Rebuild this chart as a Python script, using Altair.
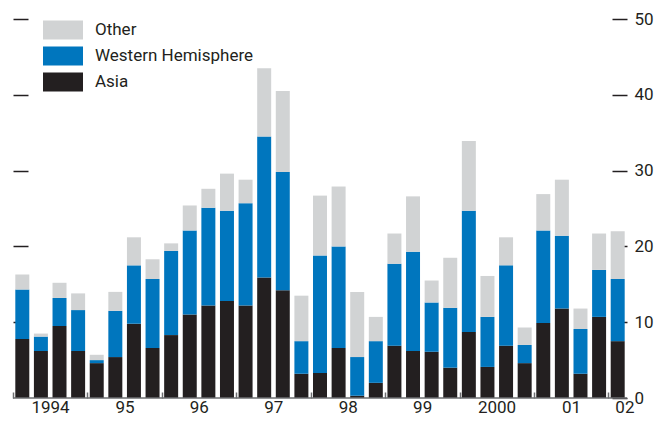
import altair as alt
import pandas as pd

# Quarterly data, 1994Q1 – 2002Q1
asia = [7.8, 6.2, 9.5, 6.2, 4.6, 5.4, 9.8, 6.6, 8.3, 11.0, 12.2, 12.8, 12.2, 15.9, 14.2, 3.2,
        3.3, 6.6, 0.3, 2.0, 6.9, 6.2, 6.1, 4.0, 8.7, 4.1, 6.9, 4.6, 9.9, 11.8, 3.2, 10.7, 7.5]
western = [6.5, 1.9, 3.7, 5.4, 0.4, 6.1, 7.7, 9.1, 11.1, 11.1, 12.9, 11.9, 13.5, 18.6, 15.6, 4.3,
           15.5, 13.4, 5.1, 5.5, 10.8, 13.1, 6.5, 7.9, 16.0, 6.6, 10.6, 2.4, 12.2, 9.6, 5.9, 6.2, 8.2]
other = [2.0, 0.4, 2.0, 2.2, 0.7, 2.5, 3.7, 2.6, 1.0, 3.3, 2.5, 4.9, 3.1, 9.0, 10.7, 6.0,
         7.9, 7.9, 8.6, 3.2, 4.0, 7.3, 2.9, 6.6, 9.2, 5.4, 3.7, 2.3, 4.8, 7.4, 2.7, 4.8, 6.3]

regions = ["Other", "Western Hemisphere", "Asia"]
colors = ["#D1D3D4", "#0076BE", "#231F20"]
year_ticks = [1994, 1995, 1996, 1997, 1998, 1999, 2000, 2001, 2002]
left_ticks = [10, 20, 30, 40, 50]
right_ticks = [0, 10, 20, 30, 40, 50]

FONT = "Roboto"
FS = 17
TEXT = "#231F20"

rows = []
totals = []
for i in range(len(asia)):
    start = 1994 + i * 0.25
    for k, (name, vals) in enumerate([("Asia", asia), ("Western Hemisphere", western), ("Other", other)]):
        rows.append({"start": start + 0.031, "end": start + 0.25 - 0.031,
                     "region": name, "value": vals[i], "order": k})
    totals.append({"start": start + 0.125, "total": asia[i] + western[i] + other[i]})
df = pd.DataFrame(rows)
tdf = pd.DataFrame(totals)

xscale = alt.Scale(domain=[1994, 2002.25], nice=False, zero=False)
yscale = alt.Scale(domain=[0, 50], nice=False)

x_axis = alt.Axis(
    values=year_ticks, title=None, domain=False, grid=False,
    tickSize=6, offset=-6, tickColor="#6D6E71", tickWidth=1.5,
    labelExpr="datum.value == 1994 || datum.value == 2000 ? '' + datum.value : substring('' + datum.value, 2)",
    labelOffset={"condition": {"test": "datum.value == 2002", "value": 16}, "value": 37},
    labelBaseline="alphabetic", labelPadding=14,
    labelFontSize=FS, labelFont=FONT, labelColor=TEXT,
    labelFlush=False, labelOverlap=False,
)

bars = alt.Chart(df).transform_stack(
    stack="value", groupby=["start"], as_=["y0", "y1"],
    sort=[alt.SortField("order", order="ascending")],
).mark_rect().encode(
    x=alt.X("start:Q", scale=xscale, axis=x_axis),
    x2="end:Q",
    y=alt.Y("y0:Q", scale=yscale,
            axis=alt.Axis(orient="left", values=left_ticks, title=None, labels=False,
                          domain=False, grid=False, tickSize=15, offset=-15,
                          tickColor=TEXT, tickWidth=1.5)),
    y2="y1:Q",
    color=alt.Color("region:N", scale=alt.Scale(domain=regions, range=colors),
                    legend=alt.Legend(orient="none", legendX=40, legendY=1, title=None,
                                      symbolType="M-2,-0.95L2,-0.95L2,0.95L-2,0.95Z",
                                      symbolSize=400, symbolStrokeWidth=0, symbolOpacity=1,
                                      labelFontSize=FS, labelFont=FONT, labelColor=TEXT,
                                      labelLimit=0, labelOffset=22, rowPadding=6, padding=0)),
)

right = alt.Chart(tdf).mark_point(opacity=0).encode(
    x=alt.X("start:Q", scale=xscale, axis=x_axis),
    y=alt.Y("total:Q", scale=yscale,
            axis=alt.Axis(orient="right", values=right_ticks, title=None, domain=False,
                          grid=False, tickSize=15, offset=-15, tickColor=TEXT, tickWidth=1.5,
                          labelPadding=7, labelFontSize=FS, labelFont=FONT, labelColor=TEXT)),
)

base = alt.Chart(pd.DataFrame({"a": [1994], "b": [2002.25], "zero": [0]})).mark_rule(
    color="#6D6E71", strokeWidth=1.5
).encode(
    x=alt.X("a:Q", scale=xscale, axis=x_axis), x2="b:Q",
    y=alt.Y("zero:Q", scale=yscale, axis=None),
)

chart = alt.layer(bars, right, base).resolve_axis(y="independent").properties(
    width=614, height=379, autosize="none",
    padding={"left": 5, "top": 11, "right": 30, "bottom": 18},
).configure_view(stroke=None)

chart.save("out.html", embed_options={"renderer": "svg", "actions": False})
